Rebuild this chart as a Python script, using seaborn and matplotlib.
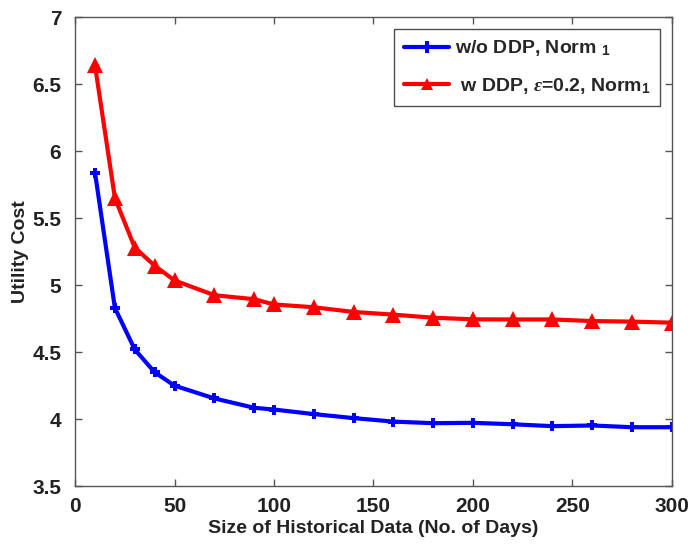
import numpy as np
import pandas as pd
import matplotlib
matplotlib.use("Agg")
import matplotlib.pyplot as plt
import seaborn as sns

# data
days = [10, 20, 30, 40, 50, 70, 90, 100, 120, 140, 160, 180, 200, 220, 240, 260, 280, 300]
cost_wo_ddp = [5.84, 4.83, 4.52, 4.35, 4.25, 4.155, 4.085, 4.072, 4.038, 4.008, 3.982, 3.97,
               3.973, 3.962, 3.948, 3.953, 3.94, 3.94]
cost_w_ddp = [6.64, 5.65, 5.28, 5.145, 5.035, 4.925, 4.895, 4.856, 4.835, 4.80, 4.78, 4.757,
              4.745, 4.744, 4.744, 4.732, 4.728, 4.72]

label_wo = r"w/o DDP, Norm $_1$"
label_w = r" w DDP, $\epsilon$=0.2, Norm$_1$"

df = pd.DataFrame({
    "days": days * 2,
    "cost": cost_wo_ddp + cost_w_ddp,
    "series": [label_wo] * len(days) + [label_w] * len(days),
})

sns.set_style("ticks")
plt.rcParams["font.family"] = ["Liberation Sans", "DejaVu Sans"]
plt.rcParams["font.weight"] = "bold"
plt.rcParams["mathtext.fontset"] = "custom"
plt.rcParams["mathtext.rm"] = "Liberation Sans:bold"
plt.rcParams["mathtext.it"] = "Liberation Serif:italic"

fig = plt.figure(figsize=(6.89, 5.5), dpi=100)
ax = fig.add_axes([0.109, 0.116, 0.866, 0.853])

sns.lineplot(data=df, x="days", y="cost", hue="series", style="series",
             palette={label_wo: "#0000ff", label_w: "#ff0000"},
             markers={label_wo: "P", label_w: "^"}, dashes=False,
             linewidth=3, markersize=8, markeredgewidth=0, ax=ax)

# adjust marker sizes per line
lines = ax.get_lines()
lines[0].set_markersize(6.5)
lines[1].set_markersize(11)

ax.set_xlim(0, 300)
ax.set_ylim(3.5, 7)
ax.set_xticks(np.arange(0, 301, 50))
ax.set_yticks(np.arange(3.5, 7.01, 0.5))
ax.set_yticklabels(["3.5", "4", "4.5", "5", "5.5", "6", "6.5", "7"])
ax.tick_params(direction="in", top=True, right=True, labelsize=15, length=5,
               color="#555555", width=1)
ax.tick_params(axis="x", pad=8)
ax.tick_params(axis="y", pad=10)
for lab in ax.get_xticklabels() + ax.get_yticklabels():
    lab.set_fontweight("bold")
    lab.set_color("#222222")
for sp in ax.spines.values():
    sp.set_visible(True)
    sp.set_color("#555555")
    sp.set_linewidth(1)

ax.set_xlabel("Size of Historical Data (No. of Days)", fontsize=14, fontweight="bold",
              color="#222222", labelpad=3)
ax.set_ylabel("Utility Cost", fontsize=14, fontweight="bold", color="#222222", labelpad=2)

leg = ax.legend(loc="upper right", fontsize=14, frameon=True, fancybox=False,
                edgecolor="#222222", handlelength=2.3, borderaxespad=0.6,
                labelspacing=0.9, handletextpad=0.3, borderpad=0.5)
leg.get_frame().set_linewidth(1)
for t in leg.get_texts():
    t.set_fontweight("bold")
for h in leg.legend_handles:
    h.set_linewidth(3)

fig.savefig("out.png", dpi=100)
